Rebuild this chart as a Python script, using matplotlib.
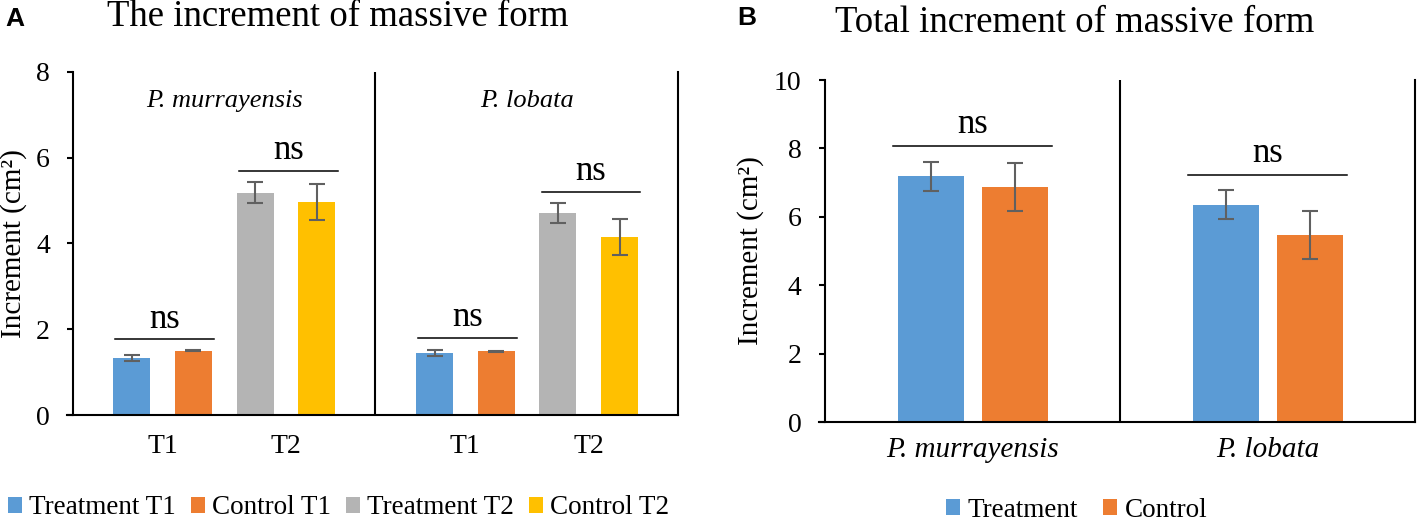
import matplotlib
matplotlib.use('Agg')
import matplotlib.pyplot as plt
import numpy as np

plt.rcParams['font.family'] = 'Liberation Serif'

# data
species = ['P. murrayensis', 'P. lobata']
series_a = ['Treatment T1', 'Control T1', 'Treatment T2', 'Control T2']
times = ['T1', 'T2']
pm_a = [1.32, 1.50, 5.18, 4.96]
pm_a_err = [0.07, 0.02, 0.25, 0.42]
pl_a = [1.44, 1.48, 4.71, 4.15]
pl_a_err = [0.07, 0.02, 0.24, 0.41]
sig_a_pm = [1.76, 5.69]
sig_a_pl = [1.80, 5.20]

series_b = ['Treatment', 'Control']
treat_b = [7.18, 6.36]
treat_b_err = [0.42, 0.42]
ctrl_b = [6.86, 5.46]
ctrl_b_err = [0.70, 0.70]
sig_b = [8.07, 7.23]

colors = ['#5B9BD5', '#ED7D31', '#B4B4B4', '#FFC000']
err_kw = dict(ecolor='#606060', elinewidth=1.5, capsize=5.5, capthick=1.5)

fig = plt.figure(figsize=(14.17, 5.23), dpi=100)
axA = fig.add_axes([0.04707, 0.2065, 0.4316, 0.6564])
axB = fig.add_axes([0.5782, 0.1931, 0.4206, 0.6539])

# ---- panel A
offs_a = 0.78 + 0.815 * np.arange(4)
w_a = 0.49
means_a = [pm_a, pl_a]
errs_a = [pm_a_err, pl_a_err]
handles_a = []
for i, name in enumerate(series_a):
    xs = np.array([0, 4]) + offs_a[i]
    h = axA.bar(xs, [m[i] for m in means_a], w_a, color=colors[i],
                yerr=[e[i] for e in errs_a], error_kw=err_kw, label=name)
    handles_a.append(h)

for k, sig in enumerate([sig_a_pm, sig_a_pl]):
    for j in range(2):
        x0 = 4 * k + offs_a[2 * j] - w_a / 2 + 0.03
        x1 = 4 * k + offs_a[2 * j + 1] + w_a / 2 + 0.03
        axA.plot([x0, x1], [sig[j], sig[j]], color='black', lw=1.1)
        axA.annotate('ns', ((x0 + x1) / 2, sig[j]), xytext=(0, 8.5),
                     textcoords='offset points', ha='center', va='baseline',
                     fontsize=25)
    axA.text(4 * k + 2, 7.18, species[k], ha='center', va='baseline',
             fontsize=19, style='italic')

axA.axvline(4, color='black', lw=1.5)
axA.set_xlim(-0.079, 8)
axA.set_ylim(0, 8)
axA.set_yticks(np.arange(0, 9, 2))
tick_x = []
for k in range(2):
    for j in range(2):
        tick_x.append(4 * k + (offs_a[2 * j] + offs_a[2 * j + 1]) / 2)
axA.set_xticks(tick_x)
axA.set_xticklabels(times * 2)
axA.tick_params(axis='x', length=0, pad=14, labelsize=20)
axA.tick_params(axis='y', length=4.3, width=1.5, pad=12, labelsize=20)

# ---- panel B
offs_b = [0.357, 0.642]
w_b = 0.223
xb = np.arange(2)
hb1 = axB.bar(xb + offs_b[0], treat_b, w_b, color=colors[0], yerr=treat_b_err,
              error_kw=err_kw, label=series_b[0])
hb2 = axB.bar(xb + offs_b[1], ctrl_b, w_b, color=colors[1], yerr=ctrl_b_err,
              error_kw=err_kw, label=series_b[1])
for k in range(2):
    x0 = k + offs_b[0] - w_b / 2 - 0.015
    x1 = k + offs_b[1] + w_b / 2 + 0.015
    axB.plot([x0, x1], [sig_b[k], sig_b[k]], color='black', lw=1.1)
    axB.annotate('ns', ((x0 + x1) / 2, sig_b[k]), xytext=(0, 9.5),
                 textcoords='offset points', ha='center', va='baseline',
                 fontsize=25)

axB.axvline(1, color='black', lw=1.5)
axB.set_xlim(-0.0203, 2)
axB.set_ylim(0, 10)
axB.set_yticks(np.arange(0, 11, 2))
axB.set_xticks(xb + 0.5)
axB.set_xticklabels(species, style='italic')
axB.tick_params(axis='x', length=0, pad=10.5, labelsize=21)
axB.tick_params(axis='y', length=4.3, width=1.5, pad=13, labelsize=20)

for ax in (axA, axB):
    ax.spines['top'].set_visible(False)
    ax.spines['left'].set_position(('data', 0))
    for s in ('left', 'bottom', 'right'):
        ax.spines[s].set_linewidth(1.5)
        ax.spines[s].set_color('black')

# labels, titles
fig.text(14 / 1417, 1 - 244 / 523, 'Increment (cm²)', rotation=90,
         ha='center', va='center', fontsize=21)
fig.text(751 / 1417, 1 - 251 / 523, 'Increment (cm²)', rotation=90,
         ha='center', va='center', fontsize=21)
fig.text(107 / 1417, 1 - 26 / 523, 'The increment of massive form',
         fontsize=26.5, va='baseline')
fig.text(835 / 1417, 1 - 32 / 523, 'Total increment of massive form',
         fontsize=26.5, va='baseline')
fig.text(5 / 1417, 1 - 26 / 523, 'A', family='Liberation Sans',
         weight='bold', fontsize=19, va='baseline')
fig.text(737 / 1417, 1 - 25 / 523, 'B', family='Liberation Sans',
         weight='bold', fontsize=19, va='baseline')

leg_kw = dict(loc='center', frameon=False, fontsize=19.5, handlelength=0.52,
              handleheight=0.52, handletextpad=0.27, borderaxespad=0,
              borderpad=0)
fig.legend(handles_a, series_a, bbox_to_anchor=(0.239, 0.029), ncol=4,
           columnspacing=0.54, **leg_kw)
fig.legend([hb1, hb2], series_b, bbox_to_anchor=(0.7597, 0.024), ncol=2,
           columnspacing=0.94, **leg_kw)

fig.savefig('out.png', dpi=100)
